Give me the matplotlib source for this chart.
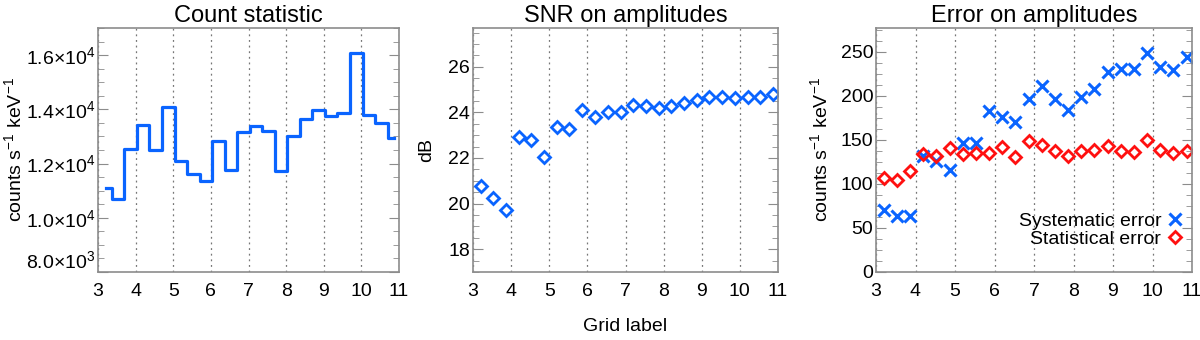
import matplotlib
matplotlib.use('Agg')
import matplotlib.pyplot as plt
from matplotlib.ticker import AutoMinorLocator, FuncFormatter, MultipleLocator

plt.rcParams['font.family'] = ['Liberation Sans', 'DejaVu Sans']
plt.rcParams['mathtext.fontset'] = 'custom'
plt.rcParams['mathtext.rm'] = 'Liberation Sans'
plt.rcParams['mathtext.it'] = 'Liberation Sans'
plt.rcParams['mathtext.default'] = 'regular'

# grid labels (x positions)
grid = [3.20, 3.53, 3.87, 4.20, 4.53, 4.87, 5.20, 5.53, 5.87, 6.20, 6.53, 6.87,
        7.20, 7.53, 7.87, 8.20, 8.53, 8.87, 9.20, 9.53, 9.87, 10.20, 10.53, 10.87]

# count statistic (counts s-1 keV-1)
counts = [11100, 10680, 12530, 13420, 12490, 14070, 12110, 11620, 11360, 12840, 11780, 13150,
          13400, 13190, 11730, 13000, 13640, 13990, 13770, 13880, 16070, 13800, 13480, 12950]

# SNR on amplitudes (dB)
snr = [20.76, 20.26, 19.71, 22.93, 22.79, 22.04, 23.37, 23.29, 24.10, 23.81, 24.01, 24.03,
       24.34, 24.26, 24.18, 24.26, 24.40, 24.56, 24.69, 24.69, 24.63, 24.68, 24.69, 24.81]

# errors on amplitudes
sys_err = [70, 64, 64, 132, 126, 115.5, 146.5, 146, 183, 175.5, 170, 196,
           211, 196.5, 183.5, 198.5, 208, 227, 231, 231, 249, 232.5, 229, 244]
stat_err = [107, 104.5, 115, 134.5, 132, 141, 134, 135, 135.5, 142, 130, 148.5,
            144, 137, 132, 137, 139, 143, 137, 136.5, 150, 138.5, 135, 137]

blue = '#0a64ff'
red = '#ff1010'
spine_col = '#8c8c8c'

fig = plt.figure(figsize=(12, 3.4), dpi=100)
W, H = 1200, 340
boxes = [(98, 399), (473, 778), (876, 1192)]
top, bottom = 28, 272
axes = []
for l, r in boxes:
    ax = fig.add_axes([l / W, 1 - bottom / H, (r - l) / W, (bottom - top) / H])
    axes.append(ax)


def style(ax):
    ax.set_xlim(3, 11)
    ax.xaxis.set_major_locator(MultipleLocator(1))
    ax.yaxis.set_minor_locator(AutoMinorLocator(4))
    for s in ax.spines.values():
        s.set_color(spine_col)
        s.set_linewidth(1.2)
    ax.tick_params(axis='y', which='both', direction='in', left=True, right=True,
                   color=spine_col, labelsize=14, pad=2)
    ax.tick_params(axis='y', which='major', length=7)
    ax.tick_params(axis='y', which='minor', length=4)
    ax.tick_params(axis='x', which='both', length=0, labelsize=14, pad=8)
    ax.grid(axis='x', linestyle=(0, (1.5, 3)), color='#777777', linewidth=0.9)
    ax.set_axisbelow(True)


# panel 1
ax = axes[0]
style(ax)
ax.plot(grid, counts, drawstyle='steps-mid', color=blue, linewidth=2.3)
ax.set_ylim(8000, 17000)
ax.yaxis.set_major_locator(MultipleLocator(2000))


def sci(v, pos):
    if v == 0:
        return '0'
    e = 0
    m = v
    while abs(m) >= 10:
        m /= 10
        e += 1
    return r'$%.1f{\times}10^{%d}$' % (m, e)


ax.yaxis.set_major_formatter(FuncFormatter(sci))
ax.set_ylabel(r'counts s$^{-1}$ keV$^{-1}$', fontsize=14, va='center')
ax.yaxis.set_label_coords((14 - 98) / 301, 0.5)
ax.set_title('Count statistic', fontsize=17, pad=4)

# panel 2
ax = axes[1]
style(ax)
ax.plot(grid, snr, linestyle='none', marker='D', markersize=6.5, markerfacecolor='none',
        markeredgecolor=blue, markeredgewidth=2)
ax.set_ylim(17, 27.7)
ax.yaxis.set_major_locator(MultipleLocator(2))
ax.set_ylabel('dB', fontsize=14, va='center')
ax.yaxis.set_label_coords((427 - 473) / 305, 0.5)
ax.set_xlabel('Grid label', fontsize=14, labelpad=13)
ax.set_title('SNR on amplitudes', fontsize=17, pad=4)

# panel 3
ax = axes[2]
style(ax)
ax.plot(grid, sys_err, linestyle='none', marker='x', markersize=8.5,
        markeredgecolor=blue, markeredgewidth=2.2, label='Systematic error')
ax.plot(grid, stat_err, linestyle='none', marker='D', markersize=6.5, markerfacecolor='none',
        markeredgecolor=red, markeredgewidth=2, label='Statistical error')
ax.set_ylim(0, 277)
ax.yaxis.set_major_locator(MultipleLocator(50))
ax.set_ylabel(r'counts s$^{-1}$ keV$^{-1}$', fontsize=14, va='center')
ax.yaxis.set_label_coords((820 - 876) / 316, 0.5)
ax.set_title('Error on amplitudes', fontsize=17, pad=4)
ax.legend(loc='lower right', bbox_to_anchor=(0.97, 0.1), frameon=False, markerfirst=False,
          fontsize=14, handlelength=0.8, handletextpad=0.3, labelspacing=0.0,
          borderpad=0, borderaxespad=0)

# bottom label of the first panel sits just above the axis corner
fig.canvas.draw()
for lbl in axes[0].get_yticklabels():
    if '8.0' in lbl.get_text():
        lbl.set_va('bottom')

fig.savefig('out.png', dpi=100)
